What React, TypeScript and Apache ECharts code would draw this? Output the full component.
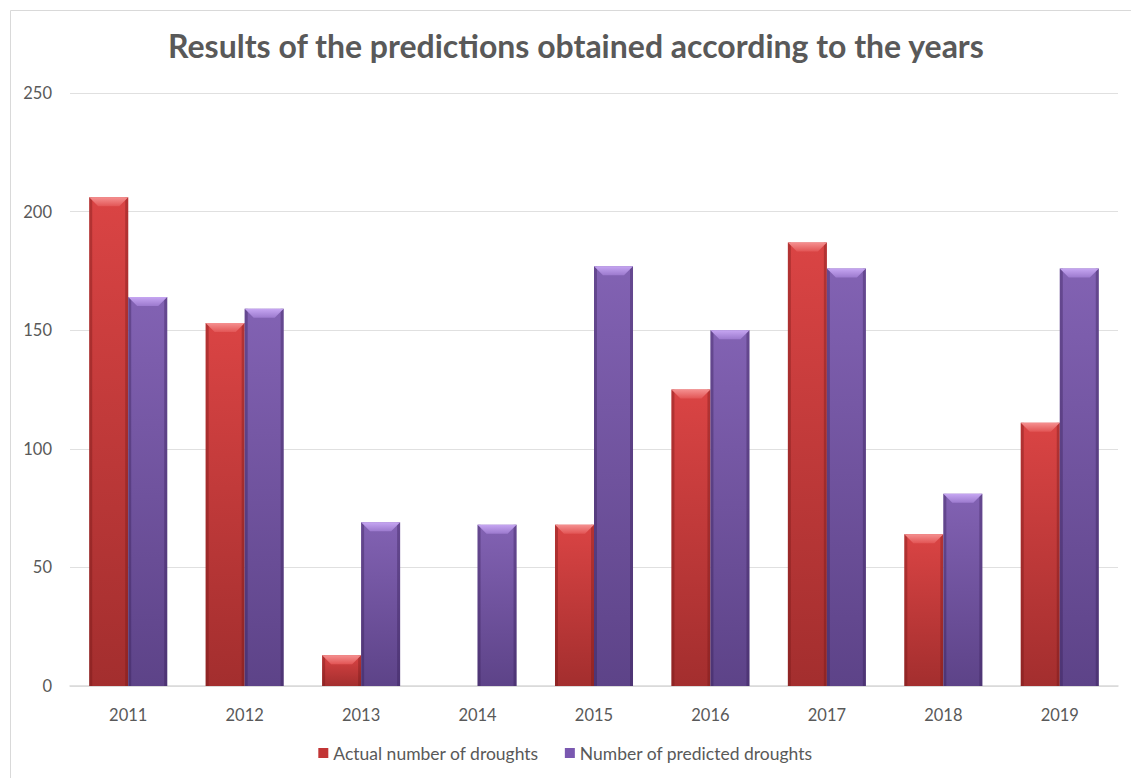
import React, { useEffect, useRef } from "react";
import * as echarts from "echarts";

const years = ["2011", "2012", "2013", "2014", "2015", "2016", "2017", "2018", "2019"];
const actualDroughts = [206, 153, 13, 0, 68, 125, 187, 64, 111];
const predictedDroughts = [164, 159, 69, 68, 177, 150, 176, 81, 176];
const yTicks = [0, 50, 100, 150, 200, 250];

const palettes = [
  { name: "Actual number of droughts", body: "#da4444", bottom: "#a32e2e", bevelTop: "#f59090", bevelBot: "#e25555", edge: "rgba(110,20,20,0.35)", legend: "#c23535" },
  { name: "Number of predicted droughts", body: "#8262b3", bottom: "#5d4388", bevelTop: "#c6a6f2", bevelBot: "#9c7ace", edge: "rgba(50,25,80,0.35)", legend: "#7a58b0" },
];

function makeRender(side: number) {
  const p = palettes[side];
  return (params: any, api: any) => {
    const idx = api.value(0);
    const val = api.value(1);
    if (!val) return { type: "group", children: [] };
    const base = api.coord([idx, 0]);
    const top = api.coord([idx, val]);
    const band = api.size([1, 0])[0];
    const bw = band * 0.335;
    const x0 = side === 0 ? base[0] - bw : base[0];
    const y0 = top[1];
    const h = base[1] - top[1];
    const b = Math.min(9, h / 2);
    const e = 3;
    return {
      type: "group",
      children: [
        {
          type: "rect",
          shape: { x: x0, y: y0, width: bw, height: h },
          style: {
            fill: new echarts.graphic.LinearGradient(0, 0, 0, 1, [
              { offset: 0, color: p.body },
              { offset: 1, color: p.bottom },
            ]),
          },
        },
        {
          type: "rect",
          shape: { x: x0, y: y0, width: e, height: h },
          style: { fill: p.edge },
        },
        {
          type: "rect",
          shape: { x: x0 + bw - e, y: y0, width: e, height: h },
          style: { fill: p.edge },
        },
        {
          type: "polygon",
          shape: {
            points: [
              [x0, y0],
              [x0 + bw, y0],
              [x0 + bw - b, y0 + b],
              [x0 + b, y0 + b],
            ],
          },
          style: {
            fill: new echarts.graphic.LinearGradient(0, 0, 0, 1, [
              { offset: 0, color: p.bevelTop },
              { offset: 1, color: p.bevelBot },
            ]),
          },
        },
      ],
    };
  };
}

export default function App() {
  const ref = useRef<HTMLDivElement>(null);
  useEffect(() => {
    if (!ref.current) return;
    const chart = echarts.init(ref.current, null, { renderer: "svg" });
    const font = "Lato, 'Open Sans', sans-serif";
    chart.setOption({
      animation: false,
      backgroundColor: "#ffffff",
      textStyle: { fontFamily: font },
      title: {
        text: "Results of the predictions obtained according to the years",
        left: 168,
        top: 29,
        padding: 0,
        textStyle: { fontFamily: font, fontSize: 32, fontWeight: "bold", color: "#595959" },
      },
      graphic: [
        {
          type: "rect",
          shape: { x: 10.5, y: 10.5, width: 1200, height: 900 },
          style: { fill: "none", stroke: "#d9d9d9", lineWidth: 1 },
          silent: true,
        },
      ],
      legend: {
        bottom: 11,
        left: "center",
        icon: "rect",
        itemWidth: 10,
        itemHeight: 10,
        itemGap: 26,
        itemStyle: { borderWidth: 0 },
        textStyle: { fontFamily: font, fontSize: 17.5, color: "#595959" },
        data: palettes.map((p) => p.name),
      },
      grid: { left: 70, right: 13, top: 93, bottom: 92 },
      xAxis: {
        type: "category",
        data: years,
        axisLine: { lineStyle: { color: "#d9d9d9", width: 1.5 } },
        axisTick: { show: false },
        axisLabel: { color: "#595959", fontSize: 16.5, margin: 20, fontFamily: font },
      },
      yAxis: {
        type: "value",
        min: yTicks[0],
        max: yTicks[yTicks.length - 1],
        interval: 50,
        axisLine: { show: false },
        axisTick: { show: false },
        splitLine: { lineStyle: { color: "#e0e0e0", width: 1 } },
        axisLabel: { color: "#595959", fontSize: 16.5, margin: 18, fontFamily: font },
      },
      series: [
        {
          name: palettes[0].name,
          type: "custom",
          renderItem: makeRender(0),
          itemStyle: { color: palettes[0].legend },
          encode: { x: 0, y: 1 },
          data: years.map((y, i) => [i, actualDroughts[i]]),
        },
        {
          name: palettes[1].name,
          type: "custom",
          renderItem: makeRender(1),
          itemStyle: { color: palettes[1].legend },
          encode: { x: 0, y: 1 },
          data: years.map((y, i) => [i, predictedDroughts[i]]),
        },
      ],
    });
    return () => chart.dispose();
  }, []);
  return (
    <div style={{ position: "fixed", left: 0, top: 0, width: 1131, height: 778, background: "#fff" }}>
      <div ref={ref} style={{ width: 1131, height: 778 }} />
    </div>
  );
}
